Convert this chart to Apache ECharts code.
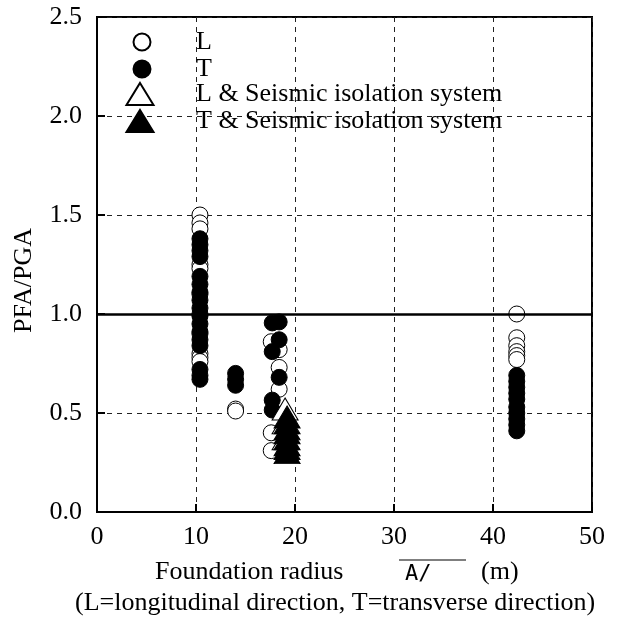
<!DOCTYPE html>
<html>
<head>
<meta charset="utf-8">
<script src="https://cdn.jsdelivr.net/npm/echarts@6/dist/echarts.min.js"></script>
<style>
  html, body { margin: 0; padding: 0; background: #fff; }
  #chart { width: 617px; height: 622px; }
</style>
</head>
<body>
<div id="chart"></div>
<script>
// Peak floor acceleration ratio vs. foundation radius
const xTicks = [0, 10, 20, 30, 40, 50];
const yTicks = [0.0, 0.5, 1.0, 1.5, 2.0, 2.5];

// L: longitudinal direction (open circles)
const lRadius = [10.4, 10.4, 10.4, 10.4, 10.4, 10.4, 10.4, 10.4, 10.4, 10.4, 10.4,
                 14.0, 14.0,
                 17.6, 17.6, 17.6, 18.4, 18.4, 18.4,
                 42.4, 42.4, 42.4, 42.4, 42.4, 42.4];
const lRatio  = [1.50, 1.46, 1.43, 1.25, 1.23, 1.10, 1.00, 0.90, 0.80, 0.78, 0.76,
                 0.52, 0.51,
                 0.86, 0.40, 0.31, 0.82, 0.73, 0.62,
                 1.00, 0.88, 0.84, 0.81, 0.79, 0.77];

// T: transverse direction (filled circles)
const tRadius = [10.4, 10.4, 10.4, 10.4, 10.4, 10.4, 10.4, 10.4, 10.4, 10.4, 10.4, 10.4, 10.4, 10.4, 10.4, 10.4, 10.4,
                 14.0, 14.0, 14.0,
                 17.7, 17.7, 17.7, 17.7, 18.4, 18.4, 18.4,
                 42.4, 42.4, 42.4, 42.4, 42.4, 42.4, 42.4, 42.4, 42.4, 42.4];
const tRatio  = [1.38, 1.35, 1.32, 1.29, 1.19, 1.15, 1.11, 1.07, 1.03, 0.99, 0.95, 0.91, 0.87, 0.84, 0.72, 0.69, 0.67,
                 0.70, 0.67, 0.64,
                 0.955, 0.81, 0.565, 0.515, 0.96, 0.87, 0.68,
                 0.69, 0.66, 0.63, 0.60, 0.57, 0.53, 0.50, 0.47, 0.44, 0.41];

// Seismic isolation system cases (triangles)
const lIsoRadius = [19.0, 19.0, 19.0];
const lIsoRatio  = [0.52, 0.45, 0.37];
const tIsoRadius = [19.2, 19.2, 19.2, 19.2, 19.2, 19.2, 19.2, 19.2];
const tIsoRatio  = [0.48, 0.45, 0.42, 0.40, 0.37, 0.34, 0.32, 0.30];

const seriesNames = ['L', 'T', 'L & Seismic isolation system', 'T & Seismic isolation system'];
const referenceRatio = 1.0;

const pairs = (xs, ys) => xs.map((x, i) => [x, ys[i]]);
const FONT = '"Liberation Serif", "Times New Roman", serif';
const FS = 26;

const chart = echarts.init(document.getElementById('chart'), null, { renderer: 'canvas' });

const dashed = { show: true, lineStyle: { color: '#222', width: 1, type: [5, 5] } };
const legendText = { fontFamily: FONT, fontSize: FS, color: '#000', lineHeight: 20 };

chart.setOption({
  animation: false,
  backgroundColor: '#fff',
  textStyle: { fontFamily: FONT, color: '#000' },
  grid: {
    left: 97, right: 25, top: 17, bottom: 110,
    show: true, borderColor: '#000', borderWidth: 2, backgroundColor: 'transparent'
  },
  legend: [
    {
      data: [seriesNames[0], seriesNames[1]],
      orient: 'vertical',
      left: 127.5, top: 24,
      itemWidth: 17, itemHeight: 17, itemGap: 1,
      textStyle: Object.assign({ padding: [0, 0, 0, 40.5] }, legendText),
      selectedMode: false
    },
    {
      data: [seriesNames[2], seriesNames[3]],
      orient: 'vertical',
      left: 120.5, top: 76,
      itemWidth: 27, itemHeight: 22, itemGap: 1,
      textStyle: Object.assign({ padding: [0, 0, 0, 37.5] }, legendText),
      selectedMode: false
    }
  ],
  xAxis: {
    type: 'value',
    min: xTicks[0], max: xTicks[xTicks.length - 1], interval: 10,
    axisLine: { show: true, onZero: false, lineStyle: { color: '#000', width: 2 } },
    axisTick: { show: true, inside: true, length: 8, lineStyle: { color: '#000', width: 2 } },
    axisLabel: { margin: 12, fontFamily: FONT, fontSize: FS, color: '#000' },
    splitLine: dashed
  },
  yAxis: {
    type: 'value',
    min: yTicks[0], max: yTicks[yTicks.length - 1], interval: 0.5,
    name: 'PFA/PGA',
    nameLocation: 'middle',
    nameGap: 60,
    nameTextStyle: { fontFamily: FONT, fontSize: FS, color: '#000', padding: [0, 32, 0, 0] },
    axisLine: { show: true, onZero: false, lineStyle: { color: '#000', width: 2 } },
    axisTick: { show: true, inside: true, length: 8, lineStyle: { color: '#000', width: 2 } },
    axisLabel: { margin: 15, fontFamily: FONT, fontSize: FS, color: '#000',
                 formatter: v => v.toFixed(1) },
    splitLine: dashed
  },
  series: [
    {
      name: seriesNames[0], type: 'scatter', z: 3,
      symbol: 'circle', symbolSize: 16,
      itemStyle: { color: '#fff', borderColor: '#000', borderWidth: 1, opacity: 1 },
      data: pairs(lRadius, lRatio),
      markLine: {
        silent: true, symbol: 'none', label: { show: false },
        lineStyle: { color: '#000', width: 2.5, type: 'solid' },
        data: [{ yAxis: referenceRatio }]
      }
    },
    {
      name: seriesNames[1], type: 'scatter', z: 4,
      symbol: 'circle', symbolSize: 16,
      itemStyle: { color: '#000', borderColor: '#000', borderWidth: 1, opacity: 1 },
      data: pairs(tRadius, tRatio)
    },
    {
      name: seriesNames[2], type: 'scatter', z: 5,
      symbol: 'triangle', symbolSize: [26, 22],
      itemStyle: { color: '#fff', borderColor: '#000', borderWidth: 1, opacity: 1 },
      data: pairs(lIsoRadius, lIsoRatio)
    },
    {
      name: seriesNames[3], type: 'scatter', z: 6,
      symbol: 'triangle', symbolSize: [26, 22],
      itemStyle: { color: '#000', borderColor: '#000', borderWidth: 1, opacity: 1 },
      data: pairs(tIsoRadius, tIsoRatio)
    }
  ],
  graphic: [
    {
      type: 'text', left: 155, top: 559,
      style: { text: 'Foundation radius', font: FS + 'px ' + FONT, fill: '#000' }
    },
    {
      type: 'text', left: 405, top: 563,
      style: { text: 'A/', font: '22px "DejaVu Sans Mono", monospace', fill: '#000' }
    },
    {
      type: 'line', shape: { x1: 399, y1: 560, x2: 466, y2: 560 },
      style: { stroke: '#000', lineWidth: 1.2 }
    },
    {
      type: 'text', left: 481, top: 559,
      style: { text: '(m)', font: FS + 'px ' + FONT, fill: '#000' }
    },
    {
      type: 'text', left: 75, top: 590,
      style: { text: '(L=longitudinal direction, T=transverse direction)', font: FS + 'px ' + FONT, fill: '#000' }
    }
  ]
});
</script>
</body>
</html>
